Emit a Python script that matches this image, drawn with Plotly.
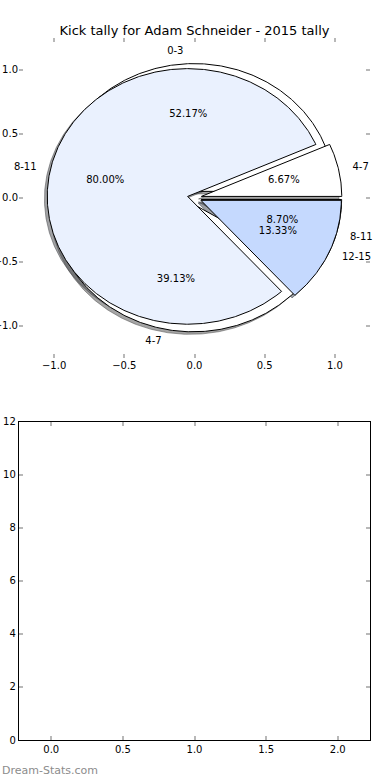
import numpy as np
import plotly.graph_objects as go
from plotly.subplots import make_subplots

# ---------------- data ----------------
title_text = "Kick tally for Adam Schneider - 2015 tally"
pie1_labels = ["0-3", "4-7", "8-11"]
pie1_values = [12, 9, 2]
pie2_labels = ["4-7", "8-11", "12-15"]
pie2_values = [1, 12, 2]
pie_ticks = [-1.0, -0.5, 0.0, 0.5, 1.0]
bottom_xticks = [0.0, 0.5, 1.0, 1.5, 2.0]
bottom_yticks = [0, 2, 4, 6, 8, 10, 12]
watermark = "Dream-Stats.com"

# ---------------- style ----------------
pie1_colors = ["#ffffff", "#ffffff", "#eaf1fe"]
pie2_colors = ["#ffffff", "#eaf1fe", "#c5d9fe"]
EXPLODE = 0.05
LABEL_DIST = 1.1
PCT_DIST = 0.6
SHADOW_OFF = -0.02
FONT = "DejaVu Sans"
TICK_GREY = "#b8b8b8"


def pie_geometry(values, explode=EXPLODE, radius=1.0):
    total = float(sum(values))
    t1 = 0.0
    out = []
    for v in values:
        t2 = t1 + 360.0 * v / total
        mid = np.deg2rad((t1 + t2) / 2.0)
        cx, cy = explode * np.cos(mid), explode * np.sin(mid)
        n = max(int((t2 - t1) * 2), 2) + 1
        th = np.deg2rad(np.linspace(t1, t2, n))
        xs = np.concatenate([[cx], cx + radius * np.cos(th), [cx]])
        ys = np.concatenate([[cy], cy + radius * np.sin(th), [cy]])
        out.append(dict(xs=xs, ys=ys, cx=cx, cy=cy, mid=mid, frac=v / total))
        t1 = t2
    return out


def darker(hexcol):
    h = hexcol.lstrip("#")
    r, g, b = (int(h[i:i + 2], 16) for i in (0, 2, 4))
    return "rgba(%d,%d,%d,0.5)" % (r * 0.3, g * 0.3, b * 0.3)


fig = make_subplots(rows=2, cols=1)

geo1 = pie_geometry(pie1_values)
geo2 = pie_geometry(pie2_values)

# shadows (below all wedges)
for geo, cols in ((geo1, pie1_colors), (geo2, pie2_colors)):
    for w, c in zip(geo, cols):
        fig.add_trace(go.Scatter(x=w["xs"] + SHADOW_OFF, y=w["ys"] + SHADOW_OFF,
                                 mode="lines", fill="toself", fillcolor=darker(c),
                                 line=dict(color=darker(c), width=1),
                                 hoverinfo="skip", showlegend=False), row=1, col=1)

# wedges
for geo, cols, labs in ((geo1, pie1_colors, pie1_labels), (geo2, pie2_colors, pie2_labels)):
    for w, c, lab in zip(geo, cols, labs):
        fig.add_trace(go.Scatter(x=w["xs"], y=w["ys"], mode="lines", fill="toself",
                                 fillcolor=c, line=dict(color="black", width=1),
                                 name=lab, hoverinfo="name", showlegend=False),
                      row=1, col=1)

# texts
for geo, labs in ((geo1, pie1_labels), (geo2, pie2_labels)):
    lx, ly, lpos = [], [], []
    px, py, ptxt = [], [], []
    for w, lab in zip(geo, labs):
        xt = w["cx"] + LABEL_DIST * np.cos(w["mid"])
        yt = w["cy"] + LABEL_DIST * np.sin(w["mid"])
        lx.append(xt)
        ly.append(yt)
        lpos.append("middle right" if xt > 0 else "middle left")
        px.append(w["cx"] + PCT_DIST * np.cos(w["mid"]))
        py.append(w["cy"] + PCT_DIST * np.sin(w["mid"]))
        ptxt.append("%.2f%%" % (100 * w["frac"]))
    fig.add_trace(go.Scatter(x=lx, y=ly, text=labs, mode="text", textposition=lpos,
                             textfont=dict(family=FONT, size=10, color="black"),
                             cliponaxis=False, hoverinfo="skip", showlegend=False),
                  row=1, col=1)
    fig.add_trace(go.Scatter(x=px, y=py, text=ptxt, mode="text", textposition="middle center",
                             textfont=dict(family=FONT, size=10, color="black"),
                             cliponaxis=False, hoverinfo="skip", showlegend=False),
                  row=1, col=1)

# empty lower axes (no data in the reference)
fig.add_trace(go.Scatter(x=[], y=[], mode="markers", hoverinfo="skip", showlegend=False),
              row=2, col=1)

H, W = 780, 390
mt, mb, ml, mr = 38, 40, 19, 20
ph = H - mt - mb
top_dom = [(H - mb - 357.5) / ph, 1.0]
bot_dom = [0.0, (H - mb - 421.7) / ph]

axis_common = dict(showgrid=False, zeroline=False, ticks="inside", ticklen=4,
                   tickwidth=1.5, tickcolor=TICK_GREY, mirror="ticks", automargin=False,
                   tickfont=dict(family=FONT, size=10, color="black"))

fig.update_xaxes(row=1, col=1, range=[-1.25, 1.25], tickvals=pie_ticks, tickformat=".1f",
                 showline=False, domain=[0, 1], **axis_common)
fig.update_yaxes(row=1, col=1, range=[-1.25, 1.25], tickvals=pie_ticks, tickformat=".1f",
                 showline=False, domain=top_dom, **axis_common)
fig.update_xaxes(row=2, col=1, range=[-0.225, 2.225], tickvals=bottom_xticks, tickformat=".1f",
                 showline=True, linecolor="black", linewidth=1.3, domain=[0, 1], **axis_common)
fig.update_yaxes(row=2, col=1, range=[0, 12], tickvals=bottom_yticks,
                 showline=True, linecolor="black", linewidth=1.3, domain=bot_dom, **axis_common)

fig.update_layout(
    width=W, height=H,
    margin=dict(l=ml, r=mr, t=mt, b=mb, autoexpand=False),
    paper_bgcolor="white", plot_bgcolor="white",
    showlegend=False,
    font=dict(family=FONT, size=10, color="black"),
    title=dict(text=title_text, x=0.5, xref="paper", xanchor="center",
               y=1 - 30 / H, yref="container", yanchor="middle",
               font=dict(family=FONT, size=13, color="black")),
    annotations=[dict(text=watermark, xref="paper", yref="paper",
                      x=-ml / (W - ml - mr), y=(H - mb - 770) / ph,
                      xanchor="left", yanchor="middle", showarrow=False,
                      font=dict(family=FONT, size=11, color="#8c8c8c"))],
)

fig.write_html("out.html", config={"displayModeBar": False},
               post_script="document.body.style.margin='0';")
